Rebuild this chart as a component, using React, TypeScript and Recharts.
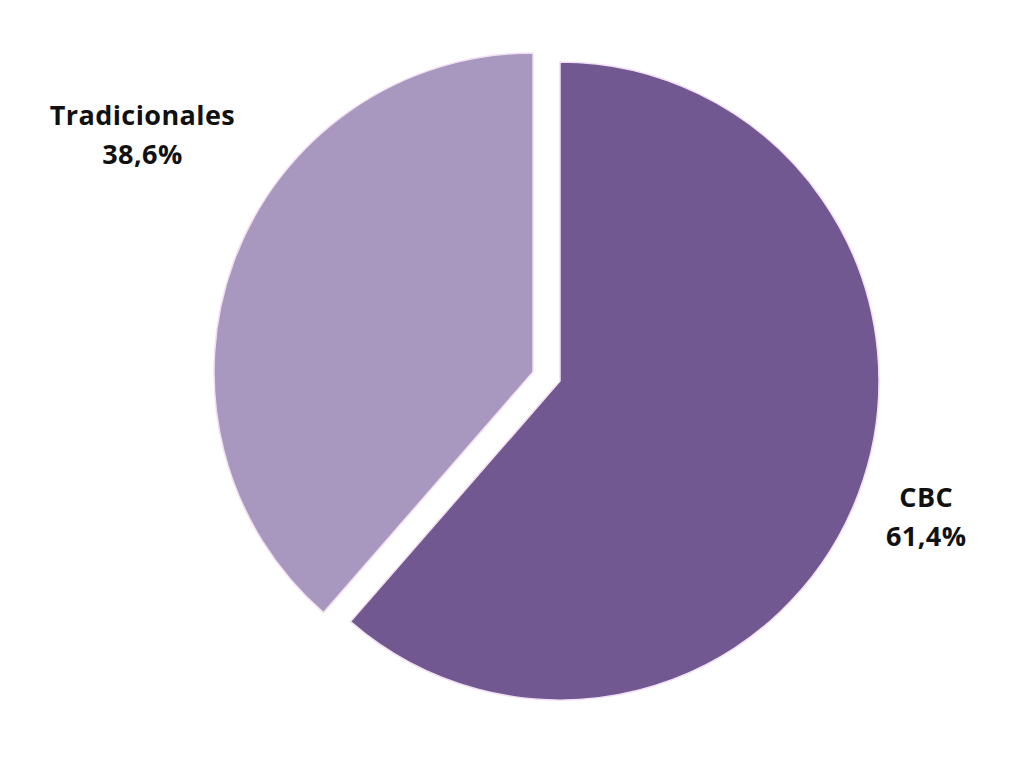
import React from "react";
import { PieChart, Pie, Cell } from "recharts";

const categories = ["CBC", "Tradicionales"];
const shares = [61.4, 38.6];
const colors = ["#715891", "#A898BF"];

const data = categories.map((name, i) => ({ name, value: shares[i] }));
const RAD = Math.PI / 180;

const fmt = (v: number) => v.toFixed(1).replace(".", ",") + "%";

const makeLabel = (showIndex: number, extraR: number, dy: number) => (props: any) => {
  const { cx, cy, midAngle, outerRadius, index, name, value } = props;
  if (index !== showIndex) return null;
  const r = outerRadius + extraR;
  const x = cx + r * Math.cos(-midAngle * RAD);
  const y = cy + r * Math.sin(-midAngle * RAD) + dy;
  return (
    <text
      x={x}
      y={y}
      textAnchor="middle"
      fill="#111"
      style={{ fontFamily: "'Open Sans', sans-serif", fontWeight: 700, fontSize: 27, letterSpacing: 0.4 }}
    >
      <tspan x={x} dy={-19} dominantBaseline="central">{name}</tspan>
      <tspan x={x} dy={38.5} dominantBaseline="central">{fmt(value)}</tspan>
    </text>
  );
};

export default function App() {
  return (
    <div style={{ position: "absolute", left: 0, top: 0, background: "#fff" }}>
      <PieChart width={1023} height={757} margin={{ top: 0, right: 0, bottom: 0, left: 0 }}>
        <Pie
          data={data}
          dataKey="value"
          nameKey="name"
          cx={560}
          cy={381}
          outerRadius={319}
          startAngle={90}
          endAngle={-270}
          isAnimationActive={false}
          label={makeLabel(0, 72, -2.5)}
          labelLine={false}
        >
          {data.map((d, i) => (
            <Cell
              key={d.name}
              fill={i === 0 ? colors[0] : "none"}
              stroke={i === 0 ? "#f3dff3" : "none"}
              strokeWidth={1.5}
            />
          ))}
        </Pie>
        <Pie
          data={data}
          dataKey="value"
          nameKey="name"
          cx={533}
          cy={372}
          outerRadius={319}
          startAngle={90}
          endAngle={-270}
          isAnimationActive={false}
          label={makeLabel(1, 98, -92)}
          labelLine={false}
        >
          {data.map((d, i) => (
            <Cell
              key={d.name}
              fill={i === 1 ? colors[1] : "none"}
              stroke={i === 1 ? "#f3dff3" : "none"}
              strokeWidth={1.5}
            />
          ))}
        </Pie>
      </PieChart>
    </div>
  );
}
